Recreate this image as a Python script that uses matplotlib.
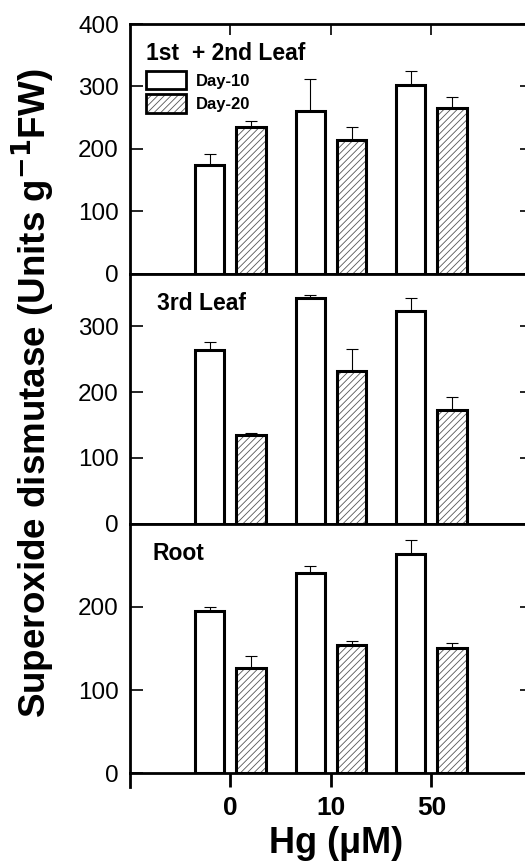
import matplotlib.pyplot as plt
import numpy as np
from matplotlib.patches import Patch

plt.rcParams['font.family'] = ['Liberation Sans', 'DejaVu Sans']
plt.rcParams['hatch.linewidth'] = 0.6

hg = ['0', '10', '50']
panels = ['1st  + 2nd Leaf', '3rd Leaf', 'Root']

# Superoxide dismutase, Units g-1 FW
day10 = [[175, 260, 303], [264, 343, 324], [195, 240, 263]]
day10_err = [[17, 52, 21], [12, 5, 19], [5, 9, 17]]
day20 = [[235, 215, 265], [135, 232, 173], [127, 154, 151]]
day20_err = [[10, 20, 18], [2, 33, 20], [14, 5, 6]]

ytops = [400, 380, 300]
yticks = [[0, 100, 200, 300, 400], [0, 100, 200, 300], [0, 100, 200]]

fig = plt.figure(figsize=(5.25, 8.64), dpi=100)
axs = fig.subplots(3, 1, sharex=True,
                   gridspec_kw=dict(left=0.2476, right=1.013, top=0.9722,
                                    bottom=0.105, hspace=0))

x = np.arange(len(hg))
w = 0.29
off = 0.205
title_pos = [(0.04, 0.883), (0.067, 0.88), (0.057, 0.88)]

for i, ax in enumerate(axs):
    z = np.zeros(len(hg))
    ax.bar(x - off, day10[i], w, color='white', edgecolor='black', lw=2.2, zorder=3)
    ax.bar(x + off, day20[i], w, color='white', edgecolor='#555555', lw=0,
           hatch='/////', zorder=3)
    ax.bar(x + off, day20[i], w, fill=False, edgecolor='black', lw=2.2, zorder=4)
    ax.errorbar(x - off, day10[i], yerr=[z, day10_err[i]], fmt='none', ecolor='black',
                elinewidth=0.8, capsize=4, capthick=0.8, zorder=2)
    ax.errorbar(x + off, day20[i], yerr=[z, day20_err[i]], fmt='none', ecolor='black',
                elinewidth=0.8, capsize=4, capthick=0.8, zorder=2)

    ax.set_ylim(0, ytops[i])
    ax.set_yticks(yticks[i])
    ax.set_xlim(-1, 3)
    for s in ax.spines.values():
        s.set_linewidth(2)
    ax.tick_params(axis='y', direction='in', length=9, width=1.2, labelsize=17.5,
                   right=True, pad=8)
    ax.tick_params(axis='x', which='both', bottom=False, top=False)
    ax.text(title_pos[i][0], title_pos[i][1], panels[i], transform=ax.transAxes,
            fontsize=16.5, fontweight='bold', va='center', ha='left')

axs[0].tick_params(axis='x', top=True, direction='in', length=8, width=1.2)
axs[2].set_xticks(x)
axs[2].set_xticklabels(hg, fontsize=19, fontweight='bold')
axs[2].tick_params(axis='x', bottom=True, direction='out', length=10, width=2, pad=6)
# left axis line runs a little below the bottom panel
axs[2].plot([0, 0], [0, -0.055], transform=axs[2].transAxes, clip_on=False,
            color='black', lw=2)

h10 = Patch(facecolor='white', edgecolor='black', lw=2)
h20 = (Patch(facecolor='white', edgecolor='#555555', lw=0, hatch='/////'),
       Patch(fill=False, edgecolor='black', lw=2))
axs[0].legend([h10, h20], ['Day-10', 'Day-20'], loc='upper left',
              bbox_to_anchor=(0.01, 0.86), frameon=False,
              prop=dict(size=12, weight='bold'), handlelength=2.4,
              handleheight=1.35, labelspacing=0.3, handletextpad=0.6,
              borderpad=0.2)

fig.text(0.063, 0.545, 'Superoxide dismutase (Units g$^{\\mathbf{-1}}$FW)',
         rotation=90, ha='center', va='center', fontsize=26.5, fontweight='bold')
fig.text(0.64, 0.024, 'Hg (\u03bcM)', ha='center', va='center',
         fontsize=26, fontweight='bold')

fig.savefig('out.png', dpi=100)
